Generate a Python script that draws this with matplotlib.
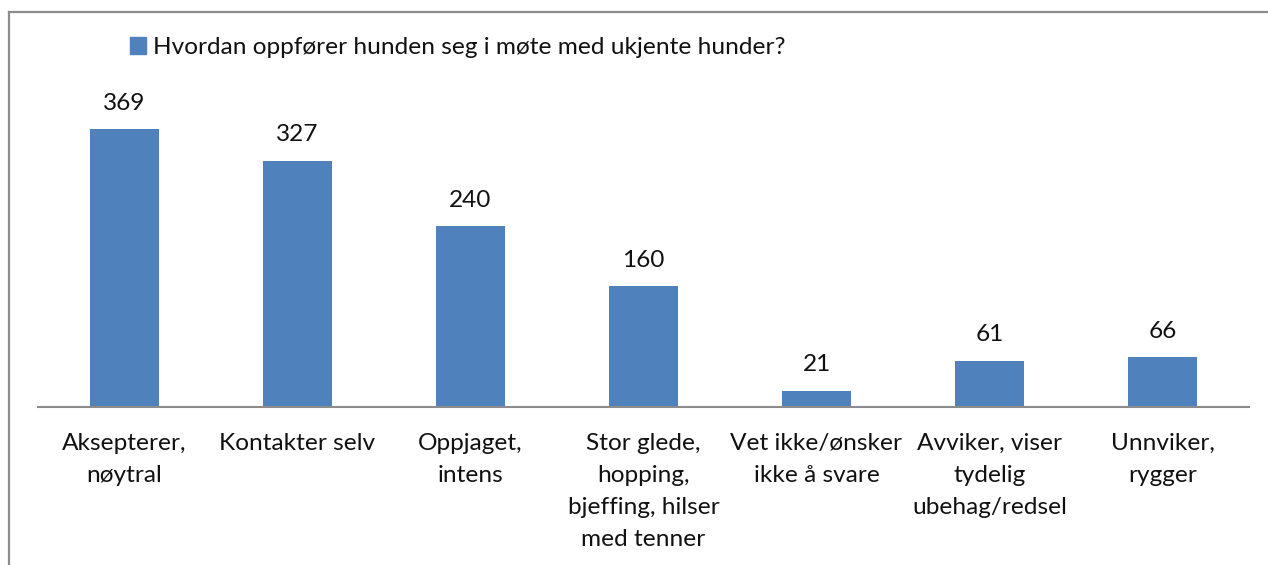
import matplotlib.pyplot as plt
from matplotlib.patches import Patch
from matplotlib.lines import Line2D

categories = ["Aksepterer,\nnøytral", "Kontakter selv", "Oppjaget,\nintens",
              "Stor glede,\nhopping,\nbjeffing, hilser\nmed tenner",
              "Vet ikke/ønsker\nikke å svare", "Avviker, viser\ntydelig\nubehag/redsel",
              "Unnviker,\nrygger"]
values = [369, 327, 240, 160, 21, 61, 66]
series_name = "Hvordan oppfører hunden seg i møte med ukjente hunder?"

W, H = 1268, 565
plt.rcParams['font.family'] = ['Lato', 'DejaVu Sans']
fig = plt.figure(figsize=(W / 100, H / 100), dpi=100)
ax = fig.add_axes([38 / W, 1 - 406.5 / H, (1249 - 38) / W, (406.5 - 100) / H])

blue = '#4F81BD'
fs = 17.6
x = range(len(values))
bars = ax.bar(x, values, width=0.4, color=blue)
for xi, v in zip(x, values):
    ax.annotate(str(v), (xi, v), xytext=(0, 11), textcoords='offset points',
                ha='center', va='bottom', fontsize=fs, color='#111111')

ax.set_xlim(-0.5, len(values) - 0.5)
ax.set_ylim(0, 306.5 / 0.752)
ax.set_xticks(list(x))
ax.set_xticklabels(categories, fontsize=fs, linespacing=1.64, color='#111111')
ax.tick_params(axis='x', length=0, pad=19)
ax.set_yticks([])
for s in ['top', 'right', 'left']:
    ax.spines[s].set_visible(False)
ax.spines['bottom'].set_color('#8c8c8c')
ax.spines['bottom'].set_linewidth(1.5)

leg = fig.legend([Patch(color=blue)], [series_name], loc='upper left',
                 bbox_to_anchor=(108 / W, 1 - 15 / H), frameon=False, fontsize=fs,
                 handlelength=0.65, handleheight=0.65, handletextpad=0.3,
                 labelcolor='#111111')

# chart frame (top and left edges visible)
fig.add_artist(Line2D([9 / W, 1], [1 - 12 / H, 1 - 12 / H], color='#8c8c8c', lw=1.6))
fig.add_artist(Line2D([9 / W, 9 / W], [0, 1 - 12 / H], color='#8c8c8c', lw=1.6))

fig.savefig('out.png', dpi=100)
